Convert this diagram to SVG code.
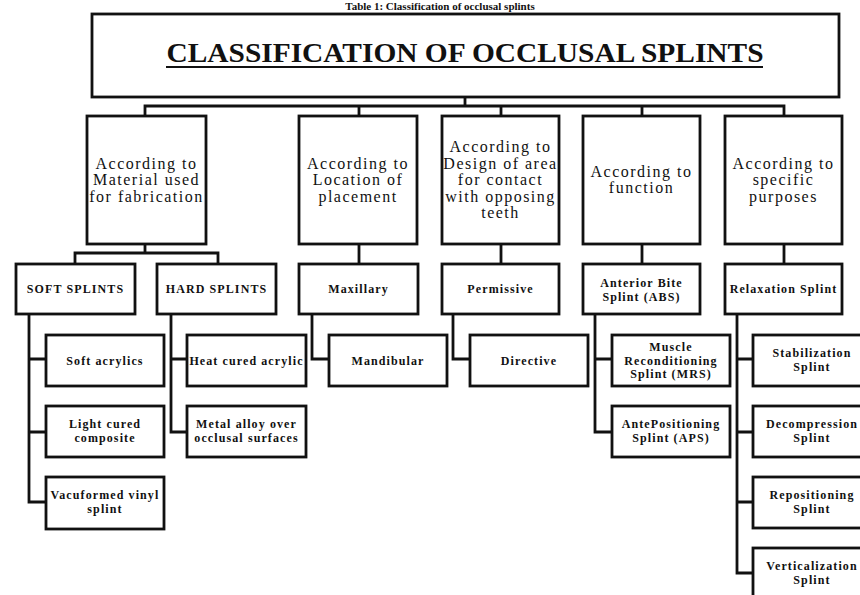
<svg xmlns="http://www.w3.org/2000/svg" width="860" height="595" viewBox="0 0 860 595">
<style>
.box{fill:#fff;stroke:#111;stroke-width:2.8}
.ln{fill:none;stroke:#111;stroke-width:2.8;stroke-linejoin:miter}
.t1{font-family:"Liberation Serif","Times New Roman",serif;font-size:16px;letter-spacing:1.5px;text-anchor:middle;fill:#111}
.t2{font-family:"Liberation Serif","Times New Roman",serif;font-size:12px;font-weight:bold;letter-spacing:1.1px;text-anchor:middle;fill:#111}
</style>
<text x="440" y="10" font-family="Liberation Serif, serif" font-size="11" font-weight="bold" text-anchor="middle" fill="#111">Table 1: Classification of occlusal splints</text>
<g id="root">
<rect class="box" x="92" y="14" width="747" height="83"/>
<text x="465" y="62" font-family="Liberation Serif, serif" font-size="27" font-weight="bold" text-anchor="middle" textLength="597" lengthAdjust="spacingAndGlyphs" fill="#111">CLASSIFICATION OF OCCLUSAL SPLINTS</text>
<line x1="166" y1="67" x2="763" y2="67" stroke="#111" stroke-width="2"/>
</g>
<g id="connectors">
<path class="ln" d="M465 97V106M145 116V106H784V116M359 106V116M501 106V116M642 106V116"/>
<path class="ln" d="M145 244V253M75 264V253H218V264"/>
<path class="ln" d="M359 244V264M501 244V264M642 244V264M784 244V264"/>
<path class="ln" d="M29 314V502H46M29 359H46M29 432H46"/>
<path class="ln" d="M171 314V432H187M171 359H187"/>
<path class="ln" d="M312 314V359H329"/>
<path class="ln" d="M453 314V359H470"/>
<path class="ln" d="M595 314V432H612M595 359H612"/>
<path class="ln" d="M737 314V573H753M737 359H753M737 432H753M737 502H753"/>
</g>
<g id="material"><rect class="box" x="87" y="116" width="119" height="128"/>
<text class="t1" x="146.5"><tspan x="146.5" y="168.5">According to</tspan><tspan x="146.5" y="185">Material used</tspan><tspan x="146.5" y="201.5">for fabrication</tspan></text></g>
<g id="location"><rect class="box" x="299" y="116" width="118" height="128"/>
<text class="t1"><tspan x="358" y="168.5">According to</tspan><tspan x="358" y="185">Location of</tspan><tspan x="358" y="201.5">placement</tspan></text></g>
<g id="design"><rect class="box" x="442" y="116" width="117" height="128"/>
<text class="t1"><tspan x="500.5" y="152">According to</tspan><tspan x="500.5" y="168.5">Design of area</tspan><tspan x="500.5" y="185">for contact</tspan><tspan x="500.5" y="201.5">with opposing</tspan><tspan x="500.5" y="218">teeth</tspan></text></g>
<g id="function"><rect class="box" x="583" y="116" width="117" height="128"/>
<text class="t1"><tspan x="641.5" y="177">According to</tspan><tspan x="641.5" y="193">function</tspan></text></g>
<g id="specific"><rect class="box" x="725" y="116" width="117" height="128"/>
<text class="t1"><tspan x="783.5" y="168.5">According to</tspan><tspan x="783.5" y="185">specific</tspan><tspan x="783.5" y="201.5">purposes</tspan></text></g>

<g id="soft"><rect class="box" x="16" y="264" width="119" height="50"/><text class="t2" x="75.5" y="293">SOFT SPLINTS</text></g>
<g id="hard"><rect class="box" x="157" y="264" width="119" height="50"/><text class="t2" x="216.5" y="293">HARD SPLINTS</text></g>
<g id="maxillary"><rect class="box" x="299" y="264" width="119" height="50"/><text class="t2" x="358.5" y="293">Maxillary</text></g>
<g id="permissive"><rect class="box" x="442" y="264" width="117" height="50"/><text class="t2" x="500.5" y="293">Permissive</text></g>
<g id="abs"><rect class="box" x="583" y="264" width="117" height="50"/><text class="t2"><tspan x="641.5" y="287">Anterior Bite</tspan><tspan x="641.5" y="300.5">Splint (ABS)</tspan></text></g>
<g id="relaxation"><rect class="box" x="725" y="264" width="117" height="50"/><text class="t2" x="783.5" y="293" letter-spacing="0.3">Relaxation Splint</text></g>

<g id="softacrylics"><rect class="box" x="46" y="335" width="118" height="51"/><text class="t2" x="105" y="364.5">Soft acrylics</text></g>
<g id="lightcured"><rect class="box" x="46" y="406" width="118" height="51"/><text class="t2"><tspan x="105" y="428">Light cured</tspan><tspan x="105" y="441.5">composite</tspan></text></g>
<g id="vacuformed"><rect class="box" x="46" y="477" width="118" height="52"/><text class="t2"><tspan x="105" y="499">Vacuformed vinyl</tspan><tspan x="105" y="512.5">splint</tspan></text></g>
<g id="heatcured"><rect class="box" x="187" y="335" width="119" height="51"/><text class="t2" x="246.5" y="364.5">Heat cured acrylic</text></g>
<g id="metalalloy"><rect class="box" x="187" y="406" width="119" height="51"/><text class="t2"><tspan x="246.5" y="428">Metal alloy over</tspan><tspan x="246.5" y="441.5">occlusal surfaces</tspan></text></g>
<g id="mandibular"><rect class="box" x="329" y="335" width="118" height="51"/><text class="t2" x="388" y="364.5">Mandibular</text></g>
<g id="directive"><rect class="box" x="470" y="335" width="118" height="51"/><text class="t2" x="529" y="364.5">Directive</text></g>
<g id="mrs"><rect class="box" x="612" y="335" width="118" height="51"/><text class="t2"><tspan x="671" y="351">Muscle</tspan><tspan x="671" y="364.5">Reconditioning</tspan><tspan x="671" y="378">Splint (MRS)</tspan></text></g>
<g id="aps"><rect class="box" x="612" y="406" width="118" height="51"/><text class="t2"><tspan x="671" y="428">AntePositioning</tspan><tspan x="671" y="441.5">Splint (APS)</tspan></text></g>
<g id="stabilization"><rect class="box" x="753" y="335" width="118" height="51"/><text class="t2"><tspan x="812" y="357">Stabilization</tspan><tspan x="812" y="370.5">Splint</tspan></text></g>
<g id="decompression"><rect class="box" x="753" y="406" width="118" height="51"/><text class="t2"><tspan x="812" y="428">Decompression</tspan><tspan x="812" y="441.5">Splint</tspan></text></g>
<g id="repositioning"><rect class="box" x="753" y="477" width="118" height="51"/><text class="t2"><tspan x="812" y="499">Repositioning</tspan><tspan x="812" y="512.5">Splint</tspan></text></g>
<g id="verticalization"><rect class="box" x="753" y="548" width="118" height="51"/><text class="t2"><tspan x="812" y="570">Verticalization</tspan><tspan x="812" y="583.5">Splint</tspan></text></g>
</svg>
